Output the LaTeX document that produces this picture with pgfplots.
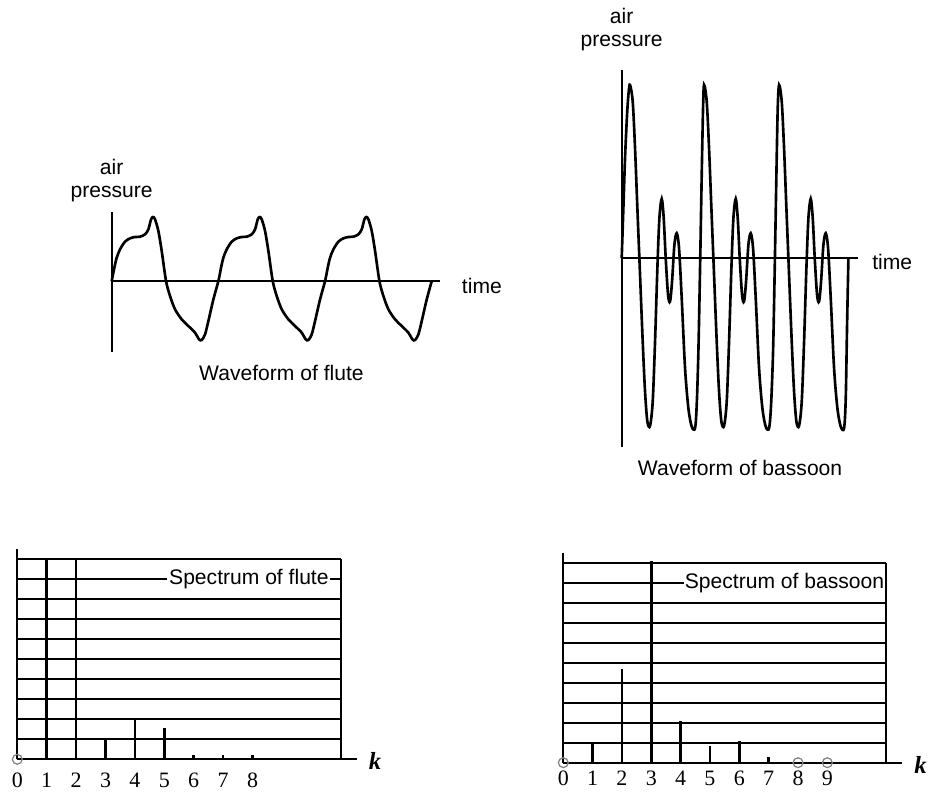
\documentclass[border=0pt]{standalone}
\usepackage{pgfplots}
\pgfplotsset{compat=1.18}
\usepackage{fontspec}
\setmainfont{Liberation Sans}
\newfontfamily\numfont{Liberation Serif}

\tikzset{txt/.style={font=\fontsize{12}{13}\selectfont}}
\pgfplotsset{
  wave/.style={
    axis lines=middle, anchor=south west,
    x=0.0066667cm, y=0.0066667cm,
    xtick=\empty, ytick=\empty,
    enlargelimits=false, clip=false,
    axis line style={-, line width=1.1pt},
    every inner x axis line/.append style={-},
    every inner y axis line/.append style={-},
  },
  spec/.style={
    axis lines=left, anchor=south west,
    y=0.4cm, xmin=0, xmax=11.55, ymin=0, ymax=10.5,
    ytick=\empty, major tick length=0,
    enlargelimits=false, clip=false,
    axis line style={-, line width=1.2pt},
    every outer x axis line/.append style={-},
    every outer y axis line/.append style={-},
    xticklabel style={font=\numfont\fontsize{12.5}{13}\selectfont, anchor=base},
  },
}

\begin{document}
\begin{tikzpicture}
\path[use as bounding box] (0,0) rectangle (18.6,15.82);

% ---- waveform of flute
\begin{axis}[wave, at={(2.234cm,8.786cm)}, xmin=0, xmax=985, ymin=-212, ymax=208]
\addplot[smooth, line width=1.5pt] coordinates {
  (0,0) (8,40) (15,70) (25,95) (40,118) (55,128) (70,132) (85,133) (100,140)
  (110,155) (118,185) (124,192) (130,185) (140,150) (150,90) (163,0) (175,-45)
  (190,-85) (210,-115) (230,-135) (250,-155) (262,-175) (270,-177) (280,-160)
  (290,-120) (305,-55)
  (320,0) (328,40) (335,70) (345,95) (360,118) (375,128) (390,132) (405,133) (420,140)
  (430,155) (438,185) (444,192) (450,185) (460,150) (470,90) (483,0) (495,-45)
  (510,-85) (530,-115) (550,-135) (570,-155) (582,-175) (590,-177) (600,-160)
  (610,-120) (625,-55)
  (640,0) (648,40) (655,70) (665,95) (680,118) (695,128) (710,132) (725,133) (740,140)
  (750,155) (758,185) (764,192) (770,185) (780,150) (790,90) (803,0) (815,-45)
  (830,-85) (850,-115) (870,-135) (890,-155) (902,-175) (910,-177) (920,-160)
  (930,-120) (945,-55) (960,0)
};
\node[txt, align=center] at (axis cs:0,301) {air\\pressure};
\node[txt, anchor=west] at (axis cs:1032,-15) {time};
\node[txt] at (axis cs:509,-275) {Waveform of flute};
\end{axis}

% ---- waveform of bassoon
\begin{axis}[wave, at={(12.434cm,6.888cm)}, xmin=0, xmax=710, ymin=-565, ymax=565]
\addplot[smooth, line width=1.5pt] coordinates {
  (0,0) (5,150) (10,300) (16,430) (21,500) (25,520)
  (33,470) (40,330) (47,150) (55,-50) (63,-250) (70,-400) (77,-490) (85,-503)
  (93,-430) (100,-250) (107,-30) (113,120) (120,178) (126,120) (132,0) (139,-110)
  (145,-130) (151,-70) (158,40) (165,75) (172,30) (180,-120) (190,-330) (200,-450)
  (210,-505) (220,-510) (225,-440) (230,-280) (235,-30) (240,250) (244,450) (247,520)
  (255,470) (262,330) (269,150) (277,-50) (285,-250) (292,-400) (299,-490) (307,-503)
  (315,-430) (322,-250) (329,-30) (335,120) (342,178) (348,120) (354,0) (361,-110)
  (367,-130) (373,-70) (380,40) (387,75) (394,30) (402,-120) (412,-330) (422,-450)
  (432,-505) (442,-510) (448,-440) (454,-280) (459,-30) (464,250) (468,450) (472,520)
  (480,470) (487,330) (494,150) (502,-50) (510,-250) (517,-400) (524,-490) (532,-503)
  (540,-430) (547,-250) (554,-30) (560,120) (567,178) (573,120) (579,0) (586,-110)
  (592,-130) (598,-70) (605,40) (612,75) (619,30) (627,-120) (637,-330) (647,-450)
  (657,-505) (667,-510) (672,-420) (676,-200) (680,0)
};
\node[txt, align=center] at (axis cs:0,685) {air\\pressure};
\node[txt, anchor=west] at (axis cs:733,-10) {time};
\node[txt] at (axis cs:355,-630) {Waveform of bassoon};
\end{axis}

% ---- spectrum of flute
\begin{axis}[spec, at={(0.346cm,0.634cm)}, x=0.588cm,
  xticklabel style={yshift=-0.56cm},
  xtick={0,1,2,3,4,5,6,7,8}, xticklabels={0,1,2,3,4,5,6,7,8}]
\pgfplotsinvokeforeach{1,...,10}{\draw[line width=1.1pt] (axis cs:0,#1) -- (axis cs:11,#1);}
\addplot[ycomb, line width=1.4pt] coordinates {
  (1,10) (2,10) (3,1.05) (4,2.0) (5,1.55) (6,0.2) (7,0.2) (8,0.2)
};
\addplot[only marks, mark=o, mark size=2.8pt, gray, mark options={line width=0.7pt}] coordinates {(0,0)};
\node[txt, fill=white, inner xsep=1pt, inner ysep=0pt, anchor=east] at (axis cs:10.66,9) {Spectrum of flute};
\draw[line width=1.1pt] (axis cs:11,0) -- (axis cs:11,10);
\node[font=\numfont\fontsize{14}{14}\selectfont\itshape\bfseries] at (axis cs:12.17,-0.1) {k};
\end{axis}

% ---- spectrum of bassoon
\begin{axis}[spec, at={(11.266cm,0.566cm)}, x=0.5867cm,
  xticklabel style={yshift=-0.46cm},
  xtick={0,1,2,3,4,5,6,7,8,9}, xticklabels={0,1,2,3,4,5,6,7,8,9}]
\pgfplotsinvokeforeach{1,...,10}{\draw[line width=1.1pt] (axis cs:0,#1) -- (axis cs:11,#1);}
\addplot[ycomb, line width=1.4pt] coordinates {
  (1,1.0) (2,4.67) (3,10.1) (4,2.1) (5,0.83) (6,1.1) (7,0.3)
};
\addplot[only marks, mark=o, mark size=2.8pt, gray, mark options={line width=0.7pt}] coordinates {(0,0) (8,0) (9,0)};
\node[txt, fill=white, inner xsep=0.5pt, inner ysep=0pt, anchor=east] at (axis cs:10.98,9) {Spectrum of bassoon};
\draw[line width=1.1pt] (axis cs:11,0) -- (axis cs:11,10);
\node[font=\numfont\fontsize{14}{14}\selectfont\itshape\bfseries] at (axis cs:12.18,-0.1) {k};
\end{axis}
\end{tikzpicture}
\end{document}
